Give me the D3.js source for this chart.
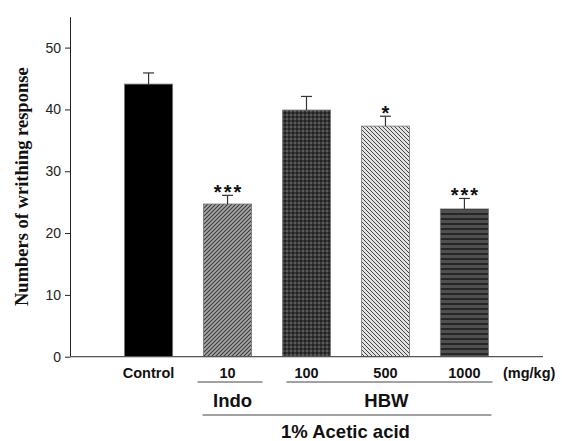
<!DOCTYPE html>
<html>
<head>
<meta charset="utf-8">
<script src="https://cdn.jsdelivr.net/npm/d3@7"></script>
<style>
  body { margin: 0; background: #fff; }
  svg { display: block; }
  .tick text { font-family: Arial, "Liberation Sans", sans-serif; font-size: 14px; fill: #222; }
  .lab { font-family: Arial, "Liberation Sans", sans-serif; font-weight: bold; fill: #111; }
</style>
</head>
<body>
<script>
var groups = ["Control", "10", "100", "500", "1000"];
var means = [44.1, 24.7, 39.9, 37.3, 23.9];
var sems = [1.8, 1.4, 2.2, 1.6, 1.7];
var stars = ["", "***", "", "*", "***"];
var yTicks = [0, 10, 20, 30, 40, 50];
var fills = ["#000", "url(#pIndo)", "url(#pHbw100)", "url(#pHbw500)", "url(#pHbw1000)"];

var width = 562, height = 441;

var svg = d3.select("body").append("svg")
  .attr("width", width)
  .attr("height", height);

var defs = svg.append("defs");

// hatch patterns, roughly as in the original figure
var p1 = defs.append("pattern").attr("id", "pIndo")
  .attr("patternUnits", "userSpaceOnUse").attr("width", 4).attr("height", 4);
p1.append("rect").attr("width", 4).attr("height", 4).attr("fill", "#a8a8a8");
p1.append("path").attr("d", "M-1,1 l2,-2 M0,4 l4,-4 M3,5 l2,-2")
  .attr("stroke", "#3a3a3a").attr("stroke-width", 1.1);

var p2 = defs.append("pattern").attr("id", "pHbw100")
  .attr("patternUnits", "userSpaceOnUse").attr("width", 4).attr("height", 4);
p2.append("rect").attr("width", 4).attr("height", 4).attr("fill", "#383838");
p2.append("rect").attr("width", 2).attr("height", 2).attr("fill", "#222");
p2.append("rect").attr("x", 2).attr("y", 2).attr("width", 2).attr("height", 2).attr("fill", "#5a5a5a");

var p3 = defs.append("pattern").attr("id", "pHbw500")
  .attr("patternUnits", "userSpaceOnUse").attr("width", 4).attr("height", 4);
p3.append("rect").attr("width", 4).attr("height", 4).attr("fill", "#e2e2e2");
p3.append("path").attr("d", "M-1,3 l2,2 M0,0 l4,4 M3,-1 l2,2")
  .attr("stroke", "#444").attr("stroke-width", 1);

var p4 = defs.append("pattern").attr("id", "pHbw1000")
  .attr("patternUnits", "userSpaceOnUse").attr("width", 4).attr("height", 5);
p4.append("rect").attr("width", 4).attr("height", 5).attr("fill", "#505050");
p4.append("rect").attr("y", 3).attr("width", 4).attr("height", 2).attr("fill", "#262626");

var x = d3.scaleBand()
  .domain(groups)
  .range([70, 543])
  .paddingInner(0.39)
  .paddingOuter(0.69);

var y = d3.scaleLinear()
  .domain([0, 55])
  .range([356.7, 16.7]);

// bars
svg.selectAll(".bar").data(groups).enter().append("rect")
  .attr("class", "bar")
  .attr("x", function(d) { return x(d); })
  .attr("y", function(d, i) { return y(means[i]); })
  .attr("width", x.bandwidth())
  .attr("height", function(d, i) { return y(0) - y(means[i]); })
  .attr("fill", function(d, i) { return fills[i]; })
  .attr("stroke", "#777")
  .attr("stroke-width", 0.8);

// error bars (upper only)
var err = svg.selectAll(".err").data(groups).enter().append("g").attr("class", "err")
  .attr("stroke", "#333").attr("stroke-width", 1.2);
err.append("line")
  .attr("x1", function(d) { return x(d) + x.bandwidth() / 2; })
  .attr("x2", function(d) { return x(d) + x.bandwidth() / 2; })
  .attr("y1", function(d, i) { return y(means[i]); })
  .attr("y2", function(d, i) { return y(means[i] + sems[i]); });
err.append("line")
  .attr("x1", function(d) { return x(d) + x.bandwidth() / 2 - 5.5; })
  .attr("x2", function(d) { return x(d) + x.bandwidth() / 2 + 5.5; })
  .attr("y1", function(d, i) { return y(means[i] + sems[i]); })
  .attr("y2", function(d, i) { return y(means[i] + sems[i]); });

// significance stars
svg.selectAll(".star").data(groups).enter().append("text")
  .attr("class", "star")
  .attr("x", function(d) { return x(d) + x.bandwidth() / 2 + 1; })
  .attr("y", function(d, i) { return y(means[i] + sems[i]) + 4; })
  .attr("text-anchor", "middle")
  .attr("font-family", "Arial, 'Liberation Sans', sans-serif")
  .attr("font-weight", "bold")
  .attr("font-size", 20)
  .attr("letter-spacing", 2)
  .attr("fill", "#111")
  .text(function(d, i) { return stars[i]; });

// axes
var yAxis = svg.append("g")
  .attr("transform", "translate(70,0)")
  .call(d3.axisLeft(y).tickValues(yTicks).tickSize(5).tickPadding(4).tickSizeOuter(0));
yAxis.select(".domain").attr("stroke", "#222");
yAxis.selectAll(".tick line").attr("stroke", "#222");

svg.append("line")
  .attr("x1", 70).attr("x2", 543)
  .attr("y1", y(0)).attr("y2", y(0))
  .attr("stroke", "#555").attr("stroke-width", 1.2);

// y title
svg.append("text")
  .attr("transform", "translate(28," + y(27.5) + ") rotate(-90)")
  .attr("text-anchor", "middle")
  .attr("font-family", "'Liberation Serif', 'Times New Roman', serif")
  .attr("font-weight", "bold")
  .attr("font-size", 18.5)
  .attr("fill", "#111")
  .text("Numbers of writhing response");

// x category labels
svg.selectAll(".xl").data(groups).enter().append("text")
  .attr("class", "lab")
  .attr("x", function(d) { return x(d) + x.bandwidth() / 2; })
  .attr("y", 378)
  .attr("text-anchor", "middle")
  .attr("font-size", 14.5)
  .text(function(d) { return d; });

svg.append("text").attr("class", "lab")
  .attr("x", 503).attr("y", 378)
  .attr("font-size", 14.5)
  .text("(mg/kg)");

// group brackets
var xc = function(g) { return x(g) + x.bandwidth() / 2; };
var lines = svg.append("g").attr("stroke", "#444").attr("stroke-width", 1);
lines.append("line").attr("x1", xc("10") - 30).attr("x2", xc("10") + 35).attr("y1", 382).attr("y2", 382);
lines.append("line").attr("x1", xc("100") - 20).attr("x2", xc("1000") + 28).attr("y1", 382).attr("y2", 382);
lines.append("line").attr("x1", xc("10") - 25).attr("x2", xc("1000") + 27).attr("y1", 415).attr("y2", 415);

svg.append("text").attr("class", "lab")
  .attr("x", xc("10") + 5).attr("y", 407)
  .attr("text-anchor", "middle").attr("font-size", 18.5)
  .text("Indo");
svg.append("text").attr("class", "lab")
  .attr("x", xc("500") + 1).attr("y", 407)
  .attr("text-anchor", "middle").attr("font-size", 18.5)
  .text("HBW");
svg.append("text").attr("class", "lab")
  .attr("x", xc("500") - 40).attr("y", 438)
  .attr("text-anchor", "middle").attr("font-size", 18.5)
  .text("1% Acetic acid");
</script>
</body>
</html>
